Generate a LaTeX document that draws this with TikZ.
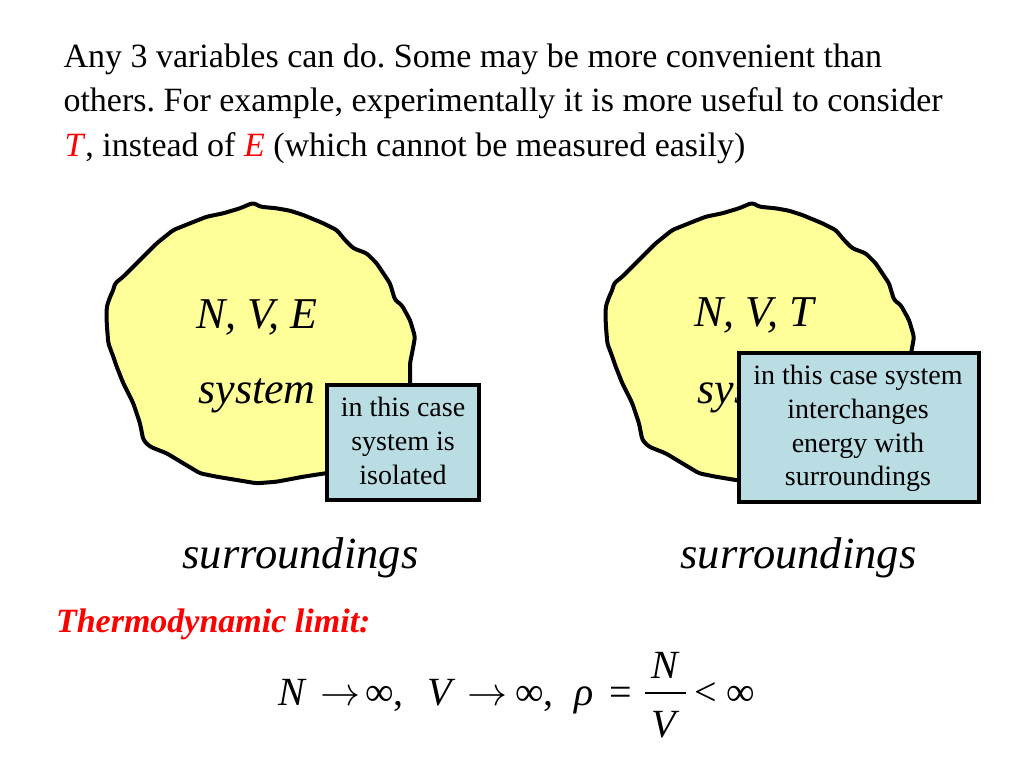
\documentclass[tikz,border=0pt]{standalone}
\usepackage{graphicx}
\usepackage{fontspec}
\setmainfont{Liberation Serif}
\frenchspacing
\definecolor{blobyellow}{RGB}{255,255,153}
\definecolor{boxblue}{RGB}{185,221,226}
\definecolor{redtxt}{RGB}{255,0,0}
\newcommand{\bigarrow}{\scalebox{4}{\fontsize{10}{12}\selectfont$\rightarrow$}}
\tikzset{
  blobline/.style={draw=black, line width=4pt, line join=round, rounded corners=3pt, fill=blobyellow},
  infobox/.style={draw=black, line width=4pt, fill=boxblue, inner sep=0pt, outer sep=0pt},
  plain/.style={inner sep=0pt, outer sep=0pt},
  titletxt/.style={plain, anchor=base west, font=\fontsize{34}{40}\selectfont},
  bigital/.style={plain, anchor=base, font=\fontsize{44}{50}\selectfont\itshape},
  surrtxt/.style={plain, anchor=base, font=\fontsize{44.5}{50}\selectfont\itshape},
  boxtxt/.style={plain, anchor=base, font=\fontsize{28}{34}\selectfont},
  eqtxt/.style={plain, anchor=base west, font=\fontsize{40}{48}\selectfont},
  blobshape/.pic={
    \path[blobline] (253.3,202.7) -- (260,206.7) -- (276.7,208.3) -- (290,210.7) -- (303.3,215)
      -- (323.3,223.3) -- (336.7,230) -- (345,240) -- (353.3,248.3) -- (366.7,253.3) -- (376.7,263.3)
      -- (383.3,273.3) -- (390,283.3) -- (395,300) -- (401.7,305) -- (410,320) -- (415,336.7)
      -- (413.3,346.7) -- (410,363.3) -- (410,390) -- (403,440) -- (357,470) -- (325.3,473.3)
      -- (303.3,476.7) -- (276.7,481.7) -- (256.7,483.3) -- (236.7,480) -- (216.7,476.7)
      -- (200,473.3) -- (183.3,463.3) -- (166.7,453.3) -- (150,446.7) -- (143.3,440)
      -- (140,423.3) -- (133.3,403.3) -- (123.3,383.3) -- (116.7,366.7) -- (113.3,356.7)
      -- (108.3,343.3) -- (106.7,323.3) -- (106.7,306.7) -- (110,297) -- (113.3,290) -- (115,283.3)
      -- (123.3,276.7) -- (136.7,263.3) -- (143.3,256.7) -- (156.7,243.3) -- (173.3,230)
      -- (190,223.3) -- (206.7,216.7) -- (223.3,213.3) -- (240,208.3) -- cycle;
  }
}
\begin{document}
\begin{tikzpicture}[x=1pt,y=-1pt]
\useasboundingbox[fill=white] (0,0) rectangle (1024,768);

% title text
\node[titletxt] (l1) at (63.5,67) {Any 3 variables can do. Some may be more convenient than};
\node[titletxt] (l2) at (63.5,111.5) {others. For example, experimentally it is more useful to consider};
\node[titletxt] (l3) at (64.5,156) {\textcolor{redtxt}{\textit{T}}, instead of \textcolor{redtxt}{\textit{E}} (which cannot be measured easily)};

% blobs
\pic (blobA) at (0,0) {blobshape};
\pic (blobB) at (499,0) {blobshape};

\node[bigital] (nve) at (257,328.3) {N, V, E};
\node[bigital] (sysA) at (257,403.3) {system};
\node[bigital] (nvt) at (754,326.7) {N, V, T};
\node[bigital] (sysB) at (756,403.3) {system};

% boxes
\node[infobox, minimum width=152pt, minimum height=115pt] (boxA) at (403,442.5) {};
\node[boxtxt] (bA1) at (403,416.7) {in this case};
\node[boxtxt] (bA2) at (403,450.5) {system is};
\node[boxtxt] (bA3) at (403,484.5) {isolated};

\node[infobox, minimum width=240pt, minimum height=149pt] (boxB) at (859,427.5) {};
\node[boxtxt] (bB1) at (858,384.5) {in this case system};
\node[boxtxt] (bB2) at (858,418.3) {interchanges};
\node[boxtxt] (bB3) at (858,452) {energy with};
\node[boxtxt] (bB4) at (858,485.5) {surroundings};

% surroundings
\node[surrtxt] (surA) at (300.5,568) {surroundings};
\node[surrtxt] (surB) at (798.5,568) {surroundings};

% thermodynamic limit
\node[plain, anchor=base west, font=\fontsize{34}{40}\selectfont\bfseries\itshape, text=redtxt] (tl) at (56,632.7) {Thermodynamic limit:};

% equation
\node[eqtxt] (e1) at (278,705) {\textit{N}};
\node[eqtxt] (e2) at (320,705) {\bigarrow};
\node[eqtxt] (e3) at (365,705) {∞,};
\node[eqtxt] (e4) at (427,705) {\textit{V}};
\node[eqtxt] (e5) at (467,705) {\bigarrow};
\node[eqtxt] (e6) at (515,705) {∞,};
\node[eqtxt] (e7) at (574,705) {\textit{ρ}};
\node[eqtxt] (e8) at (609,705) {=};
\node[plain, anchor=base, font=\fontsize{40}{48}\selectfont\itshape] (num) at (665,678) {N};
\node[plain, anchor=base, font=\fontsize{40}{48}\selectfont\itshape] (den) at (664,737) {V};
\coordinate (barL) at (645,693);
\coordinate (barR) at (686,693);
\draw[line width=2pt] (barL) -- (barR);
\node[eqtxt] (e9) at (694,705) {<};
\node[eqtxt] (e10) at (726,705) {∞};
\end{tikzpicture}
\end{document}
